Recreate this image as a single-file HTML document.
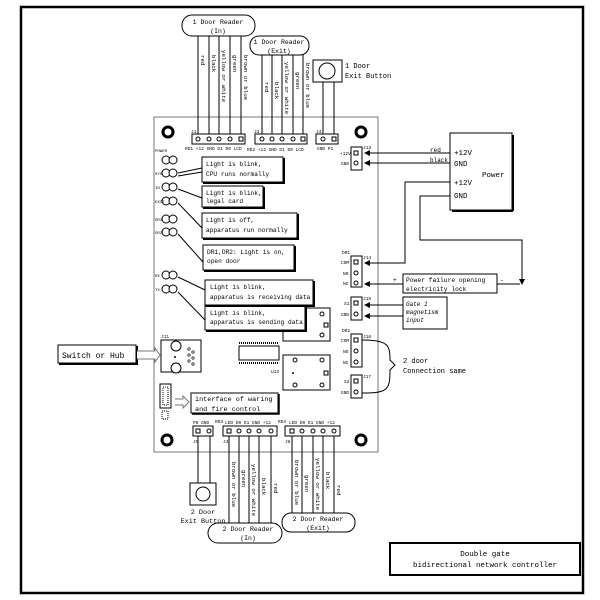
<!DOCTYPE html>
<html><head><meta charset="utf-8"><style>
html,body{margin:0;padding:0;background:#fff}
svg{display:block}
text{font-family:"Liberation Mono","DejaVu Sans Mono",monospace;fill:#000}
</style></head><body>
<svg width="600" height="600" viewBox="0 0 600 600" xmlns="http://www.w3.org/2000/svg">
<defs>
<marker id="ar" markerWidth="6" markerHeight="6" refX="5" refY="3" orient="auto"><path d="M0,0 L6,3 L0,6 z" fill="#000"/></marker>
</defs>
<rect x="21" y="7" width="562" height="586" fill="none" stroke="#000" stroke-width="2.5"/>
<rect x="154" y="117" width="224" height="335" fill="#fff" stroke="#777" stroke-width="1"/>
<g fill="none" stroke="#000" stroke-width="3">
<circle cx="168" cy="132" r="5"/><circle cx="361" cy="132" r="5"/>
<circle cx="167" cy="440" r="5"/><circle cx="361" cy="440" r="5"/>
</g>

<g stroke="#000" stroke-width="1" fill="#fff">
<rect x="182" y="15" width="73" height="21" rx="10"/>
<line x1="198" y1="36" x2="198" y2="134"/><line x1="209" y1="36" x2="209" y2="134"/><line x1="219" y1="36" x2="219" y2="134"/><line x1="230" y1="36" x2="230" y2="134"/><line x1="241" y1="36" x2="241" y2="134"/>
<rect x="250" y="36" width="59" height="19" rx="9"/>
<line x1="262" y1="55" x2="262" y2="134"/><line x1="272" y1="55" x2="272" y2="134"/><line x1="282" y1="55" x2="282" y2="134"/><line x1="293" y1="55" x2="293" y2="134"/><line x1="303" y1="55" x2="303" y2="134"/>
<rect x="313" y="60" width="29" height="22"/>
<circle cx="327" cy="71" r="8"/>
<line x1="323" y1="82" x2="323" y2="134"/><line x1="334" y1="82" x2="334" y2="134"/>
</g>
<g font-size="6.5" text-anchor="middle">
<text x="218" y="24">1 Door Reader</text><text x="218" y="33">(In)</text>
<text x="279" y="44">1 Door Reader</text><text x="279" y="53">(Exit)</text>
</g>
<text x="345" y="68" font-size="7">1 Door</text><text x="345" y="78" font-size="7">Exit Button</text>
<g font-size="5.8">
<text transform="translate(201,55) rotate(90)">red</text>
<text transform="translate(212,55) rotate(90)">black</text>
<text transform="translate(222,50) rotate(90)">yellow or white</text>
<text transform="translate(233,55) rotate(90)">green</text>
<text transform="translate(244,55) rotate(90)">brown or blue</text>
<text transform="translate(265,82) rotate(90)">red</text>
<text transform="translate(275,82) rotate(90)">black</text>
<text transform="translate(285,62) rotate(90)">yellow or white</text>
<text transform="translate(296,72) rotate(90)">green</text>
<text transform="translate(306,63) rotate(90)">brown or blue</text>
</g>
<g stroke="#000" fill="#fff" stroke-width="1">
<rect x="192" y="134" width="53" height="10"/><rect x="255" y="134" width="52" height="10"/><rect x="316" y="134" width="22" height="10"/>
</g>
<g fill="none" stroke="#000" stroke-width="1">
<circle cx="198" cy="139" r="2"/><circle cx="209" cy="139" r="2"/><circle cx="219" cy="139" r="2"/><circle cx="230" cy="139" r="2"/><rect x="239" y="137" width="4" height="4"/>
<circle cx="262" cy="139" r="2"/><circle cx="272" cy="139" r="2"/><circle cx="282" cy="139" r="2"/><circle cx="293" cy="139" r="2"/><rect x="301" y="137" width="4" height="4"/>
<circle cx="323" cy="139" r="2"/><rect x="332" y="137" width="4" height="4"/>
</g>
<g font-size="4.5">
<text x="185" y="150">RD1 +12 GND D1 D0 LCD</text>
<text x="247" y="151">RD2 +12 GND D1 D0 LCD</text>
<text x="317" y="150">GND P1</text>
<text x="191" y="133">J1</text><text x="254" y="133">J3</text><text x="316" y="133">J4</text>
</g>

<rect x="450" y="133" width="62" height="77" fill="#fff" stroke="#000" stroke-width="1"/>
<line x1="513" y1="135" x2="513" y2="211" stroke="#000" stroke-width="2"/><line x1="452" y1="211" x2="513" y2="211" stroke="#000" stroke-width="2"/>
<g font-size="7.5"><text x="454" y="155">+12V</text><text x="454" y="166">GND</text><text x="454" y="185">+12V</text><text x="454" y="198">GND</text><text x="482" y="177">Power</text></g>
<g font-size="6"><text x="430" y="152">red</text><text x="430" y="162">black</text></g>
<g stroke="#000" stroke-width="1" fill="none">
<line x1="450" y1="153" x2="365" y2="153" marker-end="url(#ar)"/>
<line x1="450" y1="163" x2="365" y2="163" marker-end="url(#ar)"/>
<polyline points="450,182 405,182 405,263 365,263" marker-end="url(#ar)"/>
<polyline points="450,196 420,196 420,240 522,240 522,284" marker-end="url(#ar)"/>
<line x1="403" y1="284" x2="365" y2="284" marker-end="url(#ar)"/>
<line x1="497" y1="284" x2="520" y2="284"/>
<line x1="403" y1="305" x2="365" y2="305" marker-end="url(#ar)"/>
<line x1="403" y1="316" x2="365" y2="316" marker-end="url(#ar)"/>
<path d="M362,340 C388,340 390,345 390,360 L395,365 L390,370 C390,390 388,393 362,393"/>
</g>
<rect x="403" y="274" width="94" height="19" fill="#fff" stroke="#000"/>
<g font-size="6.3"><text x="406" y="282">Power failure opening</text><text x="406" y="291">electricity lock</text>
<text x="393" y="282">+</text><text x="500" y="282">-</text></g>
<rect x="403" y="297" width="44" height="32" fill="#fff" stroke="#000"/>
<g font-size="6" font-style="italic"><text x="406" y="306">Gate 1</text><text x="406" y="314">magnetism</text><text x="406" y="322">input</text></g>
<g font-size="7"><text x="403" y="363">2 door</text><text x="403" y="373">Connection same</text></g>

<g stroke="#000" fill="#fff" stroke-width="1">
<rect x="351" y="147" width="11" height="23"/><rect x="351" y="256" width="11" height="31"/><rect x="351" y="297" width="11" height="23"/><rect x="351" y="334" width="11" height="33"/><rect x="351" y="375" width="11" height="23"/>
</g>
<g fill="none" stroke="#000">
<rect x="354" y="151" width="4" height="4"/><circle cx="356" cy="163" r="2"/>
<rect x="354" y="260" width="4" height="4"/><circle cx="356" cy="273" r="2"/><circle cx="356" cy="283" r="2"/>
<rect x="354" y="301" width="4" height="4"/><circle cx="356" cy="314" r="2"/>
<rect x="354" y="338" width="4" height="4"/><circle cx="356" cy="351" r="2"/><circle cx="356" cy="362" r="2"/>
<rect x="354" y="379" width="4" height="4"/><circle cx="356" cy="392" r="2"/>
</g>
<g font-size="4.5">
<text x="340" y="155">+12V</text><text x="341" y="165">GND</text><text x="363" y="149">J13</text>
<text x="342" y="254">DR1</text><text x="341" y="264">COM</text><text x="343" y="275">NO</text><text x="343" y="285">NC</text><text x="363" y="259">J14</text>
<text x="344" y="305">S1</text><text x="341" y="316">GND</text><text x="363" y="300">J15</text>
<text x="342" y="332">DR2</text><text x="341" y="342">COM</text><text x="343" y="353">NO</text><text x="343" y="364">NC</text><text x="363" y="338">J16</text>
<text x="344" y="383">S2</text><text x="341" y="394">GND</text><text x="363" y="378">J17</text>
</g>

<!-- relays & chip (behind callouts) -->
<g fill="#fff" stroke="#000" stroke-width="1">
<rect x="283" y="308" width="47" height="33"/><rect x="283" y="355" width="47" height="35"/>
<rect x="239" y="346" width="40" height="14"/>
</g>
<g stroke="#000" stroke-width="2">
<line x1="239" y1="343" x2="279" y2="343" stroke-dasharray="1,1"/>
<line x1="239" y1="363" x2="279" y2="363" stroke-dasharray="1,1"/>
</g>
<g fill="none" stroke="#000">
<circle cx="322" cy="314" r="2"/><rect x="324" y="323" width="4" height="4"/><circle cx="322" cy="335" r="2"/>
<circle cx="295" cy="360" r="2"/><circle cx="322" cy="360" r="2"/><rect x="324" y="371" width="4" height="4"/><circle cx="295" cy="385" r="2"/><circle cx="322" cy="385" r="2"/>
</g>
<circle cx="293" cy="373" r="1" fill="#000"/>
<text x="271" y="373" font-size="4.5">U13</text>

<!-- LEDs -->
<g fill="#fff" stroke="#000" stroke-width="1">
<circle cx="166" cy="160" r="4"/><circle cx="173" cy="160" r="4"/>
<circle cx="166" cy="173" r="4"/><circle cx="173" cy="173" r="4"/>
<circle cx="166" cy="187" r="4"/><circle cx="173" cy="187" r="4"/>
<circle cx="166" cy="201" r="4"/><circle cx="173" cy="201" r="4"/>
<circle cx="166" cy="219" r="4"/><circle cx="173" cy="219" r="4"/>
<circle cx="166" cy="232" r="4"/><circle cx="173" cy="232" r="4"/>
<circle cx="166" cy="275" r="4"/><circle cx="173" cy="275" r="4"/>
<circle cx="166" cy="289" r="4"/><circle cx="173" cy="289" r="4"/>
</g>
<g font-size="4">
<text x="155" y="152">POWER</text><text x="155" y="175">SYS</text><text x="155" y="189">IN</text><text x="155" y="203">EXIT</text>
<text x="155" y="221">DR1</text><text x="155" y="234">DR2</text><text x="155" y="277">RX</text><text x="155" y="291">TX</text>
</g>
<g stroke="#000" stroke-width="1">
<line x1="178" y1="173" x2="202" y2="168"/><line x1="178" y1="176" x2="202" y2="172"/>
<line x1="178" y1="189" x2="202" y2="198"/><line x1="178" y1="203" x2="202" y2="228"/>
<line x1="178" y1="234" x2="203" y2="262"/><line x1="178" y1="277" x2="205" y2="290"/>
<line x1="178" y1="292" x2="205" y2="320"/>
</g>
<g fill="#fff" stroke="#000" stroke-width="1">
<rect x="202" y="157" width="81" height="25"/><rect x="202" y="186" width="61" height="21"/>
<rect x="202" y="213" width="95" height="25"/><rect x="203" y="245" width="91" height="25"/>
<rect x="205" y="280" width="108" height="25"/><rect x="205" y="306" width="100" height="24"/>
</g>
<g stroke="#000" stroke-width="2" fill="none">
<polyline points="284,158 284,183 203,183"/><polyline points="264,187 264,208 203,208"/>
<polyline points="298,214 298,239 203,239"/><polyline points="295,246 295,271 204,271"/>
<polyline points="314,281 314,306 206,306"/><polyline points="306,307 306,331 206,331"/>
</g>
<g font-size="6.2">
<text x="206" y="166">Light is blink,</text><text x="206" y="176">CPU runs normally</text>
<text x="206" y="195">Light is blink,</text><text x="206" y="203">legal card</text>
<text x="206" y="222">Light is off,</text><text x="206" y="232">apparatus run normally</text>
<text x="207" y="254">DR1,DR2: Light is on,</text><text x="207" y="263">open door</text>
<text x="210" y="289">Light is blink,</text><text x="210" y="299">apparatus is receiving data</text>
<text x="210" y="315">Light is blink,</text><text x="210" y="324">apparatus is sending data</text>
</g>

<!-- RJ45 -->
<rect x="161" y="340" width="40" height="32" fill="#fff" stroke="#000"/>
<circle cx="176" cy="346" r="5" fill="#fff" stroke="#000"/><circle cx="176" cy="368" r="5" fill="#fff" stroke="#000"/>
<circle cx="175" cy="357" r="1" fill="#000"/>
<g fill="none" stroke="#000" stroke-width="0.7"><circle cx="189" cy="349" r="1.2"/><circle cx="193" cy="352" r="1.2"/><circle cx="189" cy="355" r="1.2"/><circle cx="193" cy="358" r="1.2"/><circle cx="189" cy="361" r="1.2"/><circle cx="193" cy="364" r="1.2"/></g>
<text x="161" y="338" font-size="4.5">J11</text>
<rect x="58" y="345" width="78" height="18" fill="#fff" stroke="#000"/>
<polyline points="137,346 137,364 59,364" fill="none" stroke="#000" stroke-width="2"/>
<text x="62" y="358" font-size="8">Switch or Hub</text>
<path d="M137,351 L155,351 L155,348 L160,355 L155,362 L155,359 L137,359" fill="#fff" stroke="#777"/>

<rect x="160" y="384" width="11" height="24" fill="#fff" stroke="#000"/>
<rect x="163" y="387" width="5" height="18" fill="none" stroke="#000" stroke-dasharray="1,1"/>
<rect x="162" y="411" width="6" height="8" fill="none" stroke="#000" stroke-dasharray="1,1"/>
<path d="M175,399 L183,399 L183,396 L189,402 L183,408 L183,405 L175,405" fill="#fff" stroke="#777"/>
<rect x="191" y="393" width="87" height="20" fill="#fff" stroke="#000"/>
<polyline points="279,394 279,414 192,414" fill="none" stroke="#000" stroke-width="1.5"/>
<g font-size="6.8"><text x="195" y="401">interface of waring</text><text x="195" y="411">and fire control</text></g>

<g stroke="#000" fill="#fff">
<rect x="193" y="426" width="20" height="10"/><rect x="223" y="426" width="54" height="10"/><rect x="285" y="426" width="55" height="10"/>
</g>
<g fill="none" stroke="#000">
<rect x="196" y="429" width="4" height="4"/><circle cx="209" cy="431" r="2"/>
<rect x="227" y="429" width="4" height="4"/><circle cx="239" cy="431" r="2"/><circle cx="249" cy="431" r="2"/><circle cx="259" cy="431" r="2"/><circle cx="271" cy="431" r="2"/>
<rect x="290" y="429" width="4" height="4"/><circle cx="302" cy="431" r="2"/><circle cx="313" cy="431" r="2"/><circle cx="323" cy="431" r="2"/><circle cx="334" cy="431" r="2"/>
</g>
<g font-size="4.5">
<text x="193" y="424">P0 GND</text><text x="215" y="423">RD3</text><text x="225" y="424">LED  D0  D1  GND +12</text>
<text x="278" y="423">RD4</text><text x="289" y="424">LED  D0  D1  GND +12</text>
<text x="193" y="443">J5</text><text x="223" y="443">J4</text><text x="285" y="443">J8</text>
</g>
<g stroke="#000" fill="none">
<line x1="198" y1="436" x2="198" y2="483"/><line x1="210" y1="436" x2="210" y2="483"/>
<line x1="229" y1="436" x2="229" y2="523"/><line x1="239" y1="436" x2="239" y2="523"/><line x1="249" y1="436" x2="249" y2="523"/><line x1="259" y1="436" x2="259" y2="523"/><line x1="271" y1="436" x2="271" y2="523"/>
<line x1="292" y1="436" x2="292" y2="513"/><line x1="302" y1="436" x2="302" y2="513"/><line x1="313" y1="436" x2="313" y2="513"/><line x1="323" y1="436" x2="323" y2="513"/><line x1="334" y1="436" x2="334" y2="513"/>
</g>
<rect x="190" y="483" width="26" height="22" fill="#fff" stroke="#000"/>
<circle cx="203" cy="494" r="7" fill="none" stroke="#000"/>
<g font-size="6.8" text-anchor="middle"><text x="203" y="514">2 Door</text><text x="203" y="523">Exit Button</text></g>
<rect x="208" y="523" width="74" height="20" rx="10" fill="#fff" stroke="#000"/>
<rect x="282" y="513" width="73" height="19" rx="9" fill="#fff" stroke="#000"/>
<g font-size="6.5" text-anchor="middle">
<text x="248" y="531">2 Door Reader</text><text x="248" y="540">(In)</text>
<text x="318" y="521">2 Door Reader</text><text x="318" y="530">(Exit)</text>
</g>
<g font-size="5.8">
<text transform="translate(232,462) rotate(90)">brown or blue</text>
<text transform="translate(242,470) rotate(90)">green</text>
<text transform="translate(252,464) rotate(90)">yellow or white</text>
<text transform="translate(262,478) rotate(90)">black</text>
<text transform="translate(274,483) rotate(90)">red</text>
<text transform="translate(295,460) rotate(90)">brown or blue</text>
<text transform="translate(305,475) rotate(90)">green</text>
<text transform="translate(316,458) rotate(90)">yellow or white</text>
<text transform="translate(326,472) rotate(90)">black</text>
<text transform="translate(337,485) rotate(90)">red</text>
</g>

<rect x="390" y="543" width="190" height="32" fill="#fff" stroke="#000" stroke-width="2"/>
<g font-size="7.5" text-anchor="middle"><text x="485" y="556">Double gate</text><text x="485" y="567">bidirectional network controller</text></g>
</svg>
</body></html>
